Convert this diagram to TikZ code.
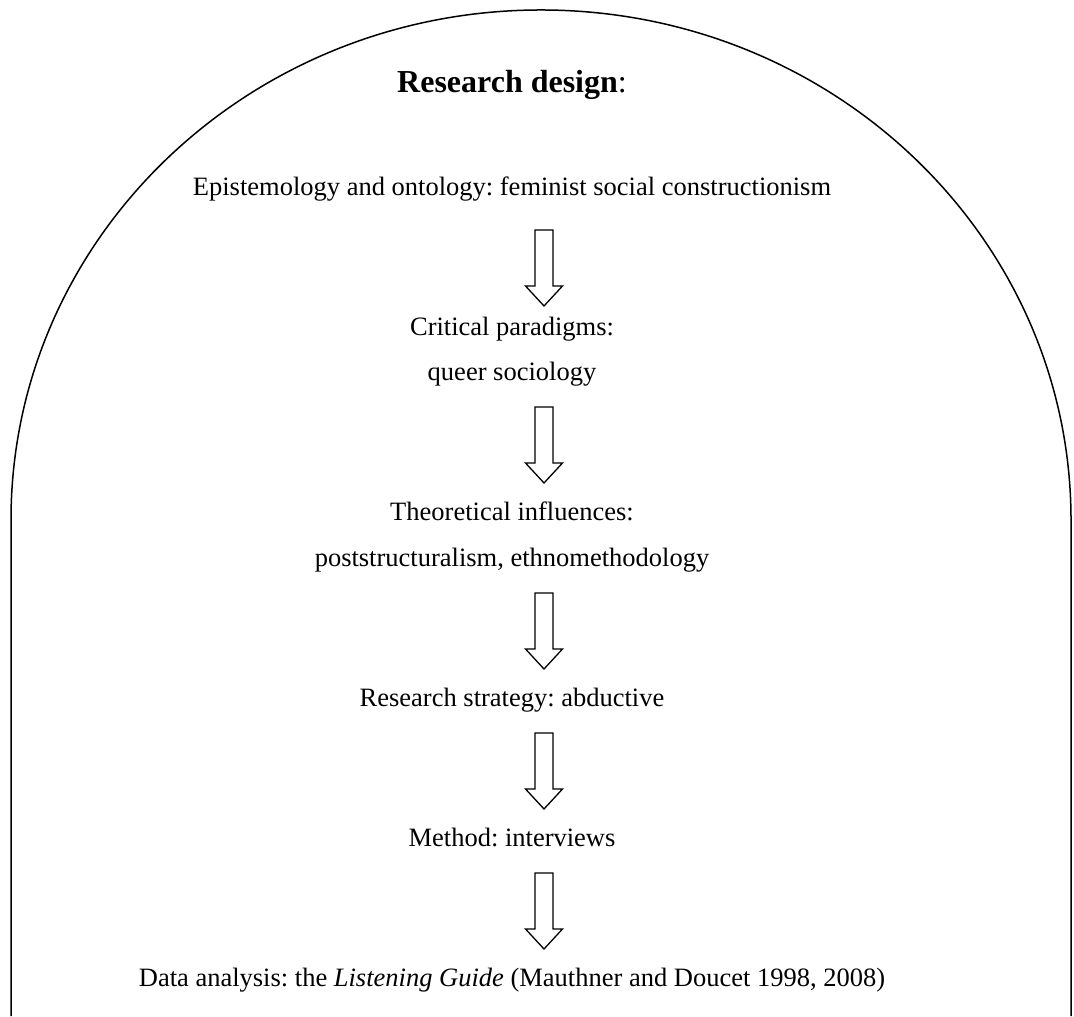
\documentclass[tikz,border=0pt]{standalone}
\usepackage{fontspec}
\setmainfont{Liberation Serif}
\usetikzlibrary{calc}
\frenchspacing

% hollow block arrow between two stages
\newcommand{\hollowdown}[3][0]{%
  \path ($(#2)!0.5!(#3)$) ++(32,#1) coordinate (m);
  \draw[line width=0.65pt, fill=white] ($(m)+(-9,38)$) -- ($(m)+(9,38)$) -- ($(m)+(9,-18)$)
    -- ($(m)+(18.5,-18)$) -- ($(m)+(0,-38)$) -- ($(m)+(-18.5,-18)$) -- ($(m)+(-9,-18)$) -- cycle;
}

\begin{document}
\begin{tikzpicture}[x=0.5pt, y=0.5pt, node distance=70pt,
    stage/.style={font=\fontsize{13.25}{16}\selectfont, text height=1.5ex, text depth=.25ex, inner sep=0pt},
    heading/.style={font=\fontsize{16}{19}\selectfont, text height=1.5ex, text depth=.25ex, inner sep=0pt}]
  \useasboundingbox (0,0) rectangle (1074,1016);
  \draw[line width=0.75pt] (11,0) -- (11,496) arc[start angle=180, end angle=0, x radius=530, y radius=510] -- (1071,0);

  \node[heading] (design) at (512,929) {\textbf{Research design}:};
  \node[stage, below of=design, node distance=51.5pt] (epi) {Epistemology and ontology: feminist social constructionism};
  \node[stage, below of=epi] (crit) {Critical paradigms:};
  \node[stage, below of=crit, node distance=22.5pt] (queer) {queer sociology};
  \node[stage, below of=queer] (theo) {Theoretical influences:};
  \node[stage, below of=theo, node distance=23pt] (post) {poststructuralism, ethnomethodology};
  \node[stage, below of=post] (strat) {Research strategy: abductive};
  \node[stage, below of=strat] (meth) {Method: interviews};
  \node[stage, below of=meth] (data) {Data analysis: the \textit{Listening Guide} (Mauthner and Doucet 1998, 2008)};

  \hollowdown[-8]{epi}{crit}
  \hollowdown{queer}{theo}
  \hollowdown{post}{strat}
  \hollowdown{strat}{meth}
  \hollowdown{meth}{data}
\end{tikzpicture}
\end{document}
